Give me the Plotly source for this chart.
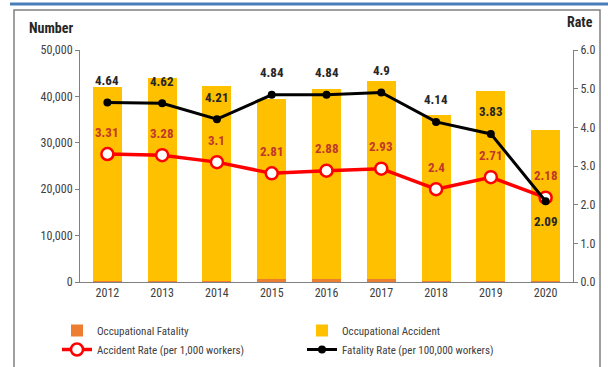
import plotly.graph_objects as go

years = ["2012", "2013", "2014", "2015", "2016", "2017", "2018", "2019", "2020"]
accidents = [41700, 43700, 42100, 38900, 41000, 42800, 35600, 40800, 32600]
fatalities = [300, 300, 250, 600, 600, 600, 300, 300, 250]
accident_rate = [3.31, 3.28, 3.1, 2.81, 2.88, 2.93, 2.4, 2.71, 2.18]
fatality_rate = [4.64, 4.62, 4.21, 4.84, 4.84, 4.9, 4.14, 3.83, 2.09]
acc_label_shift = [22, 22, 22, 22, 22, 22, 22, 22, 22]
fat_label_shift = [22, 22, 22, 22, 22, 22, 22, 22, -20]

FONT = "Liberation Sans Narrow, Arial Narrow, Roboto Condensed, Liberation Sans, Arial"

fig = go.Figure()
fig.add_trace(go.Bar(x=years, y=fatalities, name="Occupational Fatality",
                     marker=dict(color="#ED7D31", line=dict(width=0)), width=0.53))
fig.add_trace(go.Bar(x=years, y=accidents, name="Occupational Accident",
                     marker=dict(color="#FFC000", line=dict(width=0)), width=0.53))
fig.add_trace(go.Scatter(x=years, y=accident_rate, yaxis="y2", name="Accident Rate (per 1,000 workers)",
                         mode="lines+markers", line=dict(color="#FF0000", width=3.5),
                         marker=dict(size=12, color="white", line=dict(color="#FF0000", width=2.5))))
fig.add_trace(go.Scatter(x=years, y=fatality_rate, yaxis="y2", name="Fatality Rate (per 100,000 workers)",
                         mode="lines+markers", line=dict(color="#000000", width=3),
                         marker=dict(size=8, color="#000000")))

annotations = []
for i, (v, s) in enumerate(zip(fatality_rate, fat_label_shift)):
    annotations.append(dict(x=i, y=v, yref="y2", text=f"<b>{v:g}</b>", showarrow=False,
                            yshift=s, font=dict(size=13, color="#262626", family=FONT)))
for i, (v, s) in enumerate(zip(accident_rate, acc_label_shift)):
    annotations.append(dict(x=i, y=v, yref="y2", text=f"<b>{v:g}</b>", showarrow=False,
                            yshift=s, font=dict(size=13, color="#C0392B", family=FONT)))
annotations.append(dict(xref="paper", yref="paper", x=(27 - 80) / 493, y=(282 - 38) / 232,
                        xanchor="left", yanchor="bottom", text="<b>Number</b>", showarrow=False,
                        font=dict(size=14, color="#262626", family=FONT)))
annotations.append(dict(xref="paper", yref="paper", x=(565 - 80) / 493, y=(282 - 32) / 232,
                        xanchor="left", yanchor="bottom", text="<b>Rate</b>", showarrow=False,
                        font=dict(size=14, color="#262626", family=FONT)))

fig.update_layout(
    width=608, height=367,
    margin=dict(l=80, r=35, t=50, b=85, autoexpand=False),
    paper_bgcolor="white", plot_bgcolor="white",
    barmode="stack", bargap=0.47,
    font=dict(family=FONT, size=12, color="#404040"),
    xaxis=dict(type="category", range=[-0.5, len(years) - 0.5], showline=True, linecolor="#808080",
               linewidth=1, ticks="", showgrid=False, tickfont=dict(size=12, color="#404040")),
    yaxis=dict(range=[0, 50000], dtick=10000, tickformat=",", showline=True, linecolor="#808080",
               linewidth=1, ticks="outside", ticklen=4, tickcolor="#808080", showgrid=False,
               zeroline=False, tickfont=dict(size=12, color="#404040")),
    yaxis2=dict(range=[0, 6], dtick=1, tickformat=".1f", overlaying="y", side="right", showline=True,
                linecolor="#808080", linewidth=1, ticks="outside", ticklen=4, tickcolor="#808080",
                showgrid=False, zeroline=False, tickfont=dict(size=12, color="#404040")),
    showlegend=True,
    legend=dict(orientation="h", x=(57 - 80) / 493, y=(282 - 316) / 232, xanchor="left", yanchor="top",
                entrywidth=200, traceorder="normal", font=dict(size=11, color="#404040", family=FONT),
                tracegroupgap=0, itemwidth=30),
    annotations=annotations,
    shapes=[
        dict(type="rect", xref="paper", yref="paper", x0=(14 - 80) / 493, x1=(600 - 80) / 493,
             y0=(282 - 372) / 232, y1=(282 - 10) / 232, line=dict(color="#808080", width=1.5)),
        dict(type="line", xref="paper", yref="paper", x0=(10 - 80) / 493, x1=(610 - 80) / 493,
             y0=(282 - 4) / 232, y1=(282 - 4) / 232, line=dict(color="#4A7EBB", width=3)),
    ],
)

fig.write_html("out.html")
